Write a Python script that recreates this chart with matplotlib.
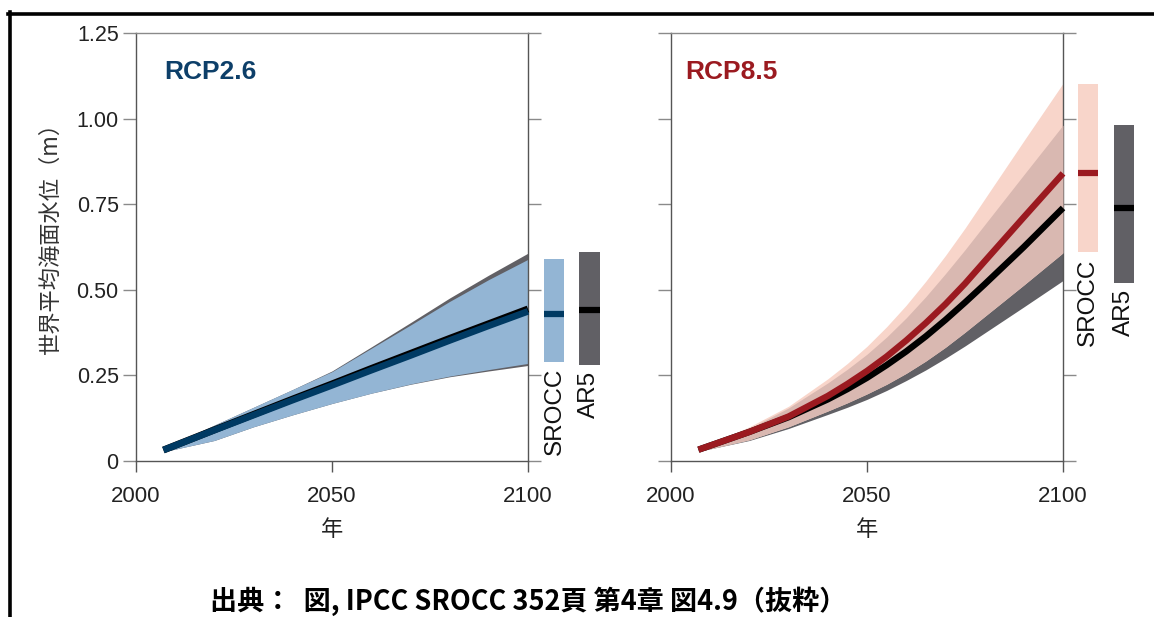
import matplotlib
matplotlib.use("Agg")
import matplotlib.pyplot as plt
import numpy as np
from matplotlib.lines import Line2D

# ---------------- data ----------------
years26 = [2007, 2020, 2030, 2040, 2050, 2060, 2070, 2080, 2090, 2100]

# RCP2.6
rcp26_srocc_med = [0.032, 0.090, 0.134, 0.178, 0.221, 0.265, 0.308, 0.352, 0.395, 0.437]
rcp26_srocc_hi  = [0.037, 0.105, 0.157, 0.209, 0.261, 0.329, 0.397, 0.466, 0.530, 0.589]
rcp26_srocc_lo  = [0.027, 0.060, 0.100, 0.135, 0.168, 0.198, 0.225, 0.248, 0.267, 0.285]
rcp26_ar5_med   = [0.032, 0.091, 0.136, 0.181, 0.225, 0.270, 0.314, 0.358, 0.401, 0.444]
rcp26_ar5_hi    = [0.037, 0.105, 0.157, 0.209, 0.263, 0.333, 0.404, 0.476, 0.543, 0.607]
rcp26_ar5_lo    = [0.027, 0.060, 0.100, 0.135, 0.168, 0.198, 0.224, 0.246, 0.263, 0.279]

# RCP8.5
years85 = [2007, 2020, 2030, 2040, 2045, 2050, 2055, 2060, 2065, 2070, 2075, 2080, 2090, 2100]
rcp85_srocc_med = [0.033, 0.085, 0.130, 0.190, 0.225, 0.263, 0.305, 0.352, 0.403, 0.458, 0.518, 0.583, 0.712, 0.840]
rcp85_srocc_hi  = [0.036, 0.100, 0.160, 0.240, 0.285, 0.335, 0.392, 0.455, 0.525, 0.600, 0.680, 0.765, 0.935, 1.103]
rcp85_srocc_lo  = [0.028, 0.062, 0.100, 0.146, 0.170, 0.196, 0.224, 0.256, 0.292, 0.332, 0.376, 0.422, 0.514, 0.608]
rcp85_ar5_med   = [0.033, 0.085, 0.128, 0.180, 0.210, 0.243, 0.280, 0.320, 0.364, 0.412, 0.463, 0.516, 0.625, 0.739]
rcp85_ar5_hi    = [0.035, 0.095, 0.155, 0.228, 0.268, 0.312, 0.362, 0.418, 0.480, 0.547, 0.617, 0.690, 0.836, 0.981]
rcp85_ar5_lo    = [0.028, 0.060, 0.095, 0.136, 0.157, 0.180, 0.206, 0.235, 0.266, 0.300, 0.336, 0.374, 0.450, 0.527]

# 2100 ranges shown as bars: (low, median, high)
bar_rcp26_srocc = (0.29, 0.43, 0.59)
bar_rcp26_ar5   = (0.28, 0.44, 0.61)
bar_rcp85_srocc = (0.61, 0.84, 1.10)
bar_rcp85_ar5   = (0.52, 0.74, 0.98)

yticks = [0, 0.25, 0.50, 0.75, 1.00, 1.25]
ytick_labels = ["0", "0.25", "0.50", "0.75", "1.00", "1.25"]
xticks = [2000, 2050, 2100]
xtick_labels = ["2000", "2050", "2100"]

ylabel = "世界平均海面水位（m）"
xlabel = "年"
caption = "出典：  図, IPCC SROCC 352頁 第4章 図4.9（抜粋）"

# ---------------- style ----------------
SANS = ["Liberation Sans", "DejaVu Sans"]
CJK = ["Noto Sans CJK JP", "DejaVu Sans"]

GRAY_AR5 = "#616065"
BLUE_BAND = "#93b5d4"
BLUE_DARK = "#003a63"
PINK_BAND = "#f8d5ca"
OVERLAP = "#d9b8b1"
RED = "#9b1a20"
SPINE = "#555555"

W, H = 1154, 617
fig = plt.figure(figsize=(W / 100, H / 100), dpi=100)

def px_axes(x0, x1, ytop, ybot):
    return fig.add_axes([x0 / W, (H - ybot) / H, (x1 - x0) / W, (ybot - ytop) / H])

ax1 = px_axes(136, 528, 33, 461)
ax2 = px_axes(671, 1063, 33, 461)

def style_axes(ax, show_ylabels):
    ax.set_xlim(2000, 2100)
    ax.set_ylim(0, 1.25)
    for s in ["left", "right", "bottom"]:
        ax.spines[s].set_color(SPINE)
        ax.spines[s].set_linewidth(1.0)
    ax.spines["top"].set_color("#8a8a8a")
    ax.spines["top"].set_linewidth(1.0)
    ax.set_yticks(yticks)
    ax.set_xticks(xticks)
    ax.set_xticklabels(xtick_labels, fontfamily=SANS, fontsize=16, color="#222222")
    if show_ylabels:
        ax.set_yticklabels(ytick_labels, fontfamily=SANS, fontsize=15.5, color="#222222")
    else:
        ax.set_yticklabels([])
    ax.tick_params(axis="y", which="both", left=True, right=True, direction="out",
                   length=9.5, width=1.0, color="#8a8a8a", pad=3)
    ax.tick_params(axis="x", direction="out", length=8, width=1.0, color=SPINE, pad=10)
    ax.set_xlabel(xlabel, fontfamily=CJK, fontsize=16, color="#222222", labelpad=8)

style_axes(ax1, True)
style_axes(ax2, False)
ax1.set_ylabel(ylabel, fontfamily=CJK, fontsize=16, color="#333333")
ax1.yaxis.set_label_coords(-0.19, 0.535)

# ---------------- left panel: RCP2.6 ----------------
ax1.fill_between(years26, rcp26_ar5_lo, rcp26_ar5_hi, color=GRAY_AR5, lw=0, zorder=1)
ax1.fill_between(years26, rcp26_srocc_lo, rcp26_srocc_hi, color=BLUE_BAND, lw=0, zorder=2)
ax1.plot(years26, rcp26_ar5_med, color="black", lw=5, solid_capstyle="butt",
         solid_joinstyle="round", zorder=3, clip_on=False)
ax1.plot(years26, rcp26_srocc_med, color=BLUE_DARK, lw=4.8, solid_capstyle="butt",
         solid_joinstyle="round", zorder=4, clip_on=False)
ax1.text(0.071, 0.8925, "RCP2.6", transform=ax1.transAxes, fontfamily=SANS,
         fontweight="bold", fontsize=19, color="#0d3f69", va="baseline", ha="left")

# ---------------- right panel: RCP8.5 ----------------
ov_lo = np.maximum(rcp85_srocc_lo, rcp85_ar5_lo)
ov_hi = np.minimum(rcp85_srocc_hi, rcp85_ar5_hi)
ax2.fill_between(years85, rcp85_ar5_lo, rcp85_ar5_hi, color=GRAY_AR5, lw=0, zorder=1)
ax2.fill_between(years85, rcp85_srocc_lo, rcp85_srocc_hi, color=PINK_BAND, lw=0, zorder=2)
ax2.fill_between(years85, ov_lo, ov_hi, color=OVERLAP, lw=0, zorder=3)
ax2.plot(years85, rcp85_ar5_med, color="black", lw=4.6, solid_capstyle="butt",
         solid_joinstyle="round", zorder=4, clip_on=False)
ax2.plot(years85, rcp85_srocc_med, color=RED, lw=4.6, solid_capstyle="butt",
         solid_joinstyle="round", zorder=5, clip_on=False)
ax2.text(0.037, 0.8925, "RCP8.5", transform=ax2.transAxes, fontfamily=SANS,
         fontweight="bold", fontsize=19, color=RED, va="baseline", ha="left")

# ---------------- side bars ----------------
def side_bar(ax, x0, x1, rng, fc, mc, label):
    lo, med, hi = rng
    ax.bar([(x0 + x1) / 2], [hi - lo], bottom=[lo], width=x1 - x0, color=fc,
           lw=0, clip_on=False, zorder=5)
    ax.plot([x0, x1], [med, med], color=mc, lw=4.5, solid_capstyle="butt",
            clip_on=False, zorder=6)
    ax.text((x0 + x1) / 2, lo - 0.018, label, rotation=90, ha="center", va="top",
            fontfamily=SANS, fontsize=17.5, color="#111111", clip_on=False)

side_bar(ax1, 2104.2, 2109.3, bar_rcp26_srocc, BLUE_BAND, BLUE_DARK, "SROCC")
side_bar(ax1, 2112.9, 2118.3, bar_rcp26_ar5, GRAY_AR5, "black", "AR5")
side_bar(ax2, 2103.8, 2108.9, bar_rcp85_srocc, PINK_BAND, RED, "SROCC")
side_bar(ax2, 2113.0, 2118.0, bar_rcp85_ar5, GRAY_AR5, "black", "AR5")

# ---------------- caption & frame ----------------
fig.text(210 / W, 1 - 601 / H, caption, fontfamily=CJK, fontweight="bold",
         fontsize=19.5, color="black", ha="left", va="center")

fig.add_artist(Line2D([8 / W, 1.0], [1 - 13.5 / H, 1 - 13.5 / H],
                      transform=fig.transFigure, color="black", lw=2.6))
fig.add_artist(Line2D([10 / W, 10 / W], [1 - 12 / H, 0.0],
                      transform=fig.transFigure, color="black", lw=2.6))

fig.savefig("out.png", dpi=100)
